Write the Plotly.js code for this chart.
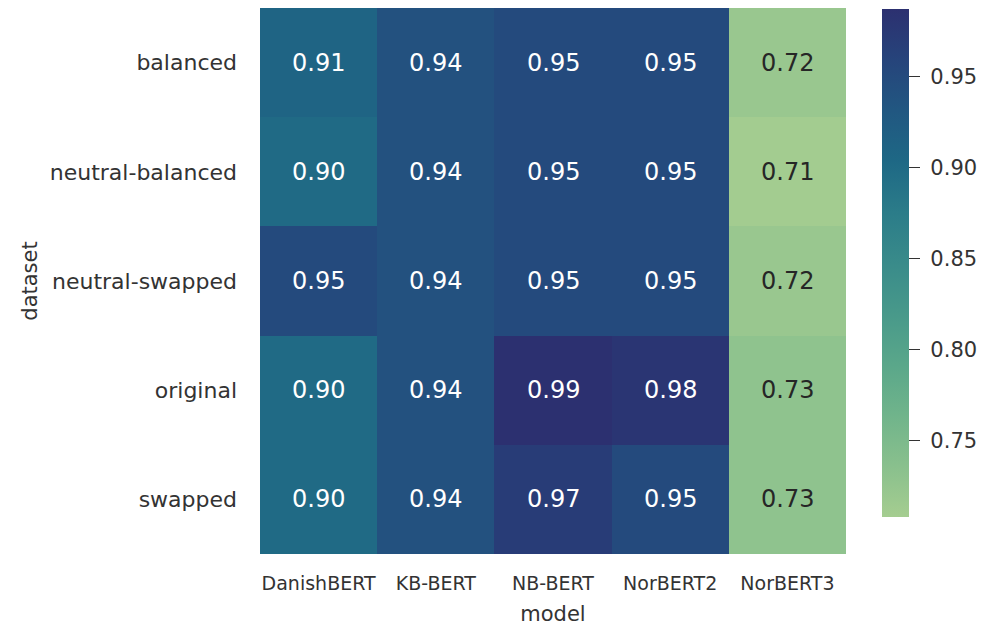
<!DOCTYPE html>
<html>
<head>
<meta charset="utf-8">
<script src="https://cdn.plot.ly/plotly-3.0.1.min.js"></script>
<style>
  html, body { margin: 0; padding: 0; background: #ffffff; }
  #chart { width: 985px; height: 630px; }
</style>
</head>
<body>
<div id="chart"></div>
<script>
// Accuracy per model (columns) and dataset variant (rows)
const models = ["DanishBERT", "KB-BERT", "NB-BERT", "NorBERT2", "NorBERT3"];
const datasets = ["balanced", "neutral-balanced", "neutral-swapped", "original", "swapped"];

const balanced        = [0.91, 0.94, 0.95, 0.95, 0.72];
const neutralBalanced = [0.90, 0.94, 0.95, 0.95, 0.71];
const neutralSwapped  = [0.95, 0.94, 0.95, 0.95, 0.72];
const original        = [0.90, 0.94, 0.99, 0.98, 0.73];
const swapped         = [0.90, 0.94, 0.97, 0.95, 0.73];

const scores = [balanced, neutralBalanced, neutralSwapped, original, swapped];

// seaborn "crest"-like colour ramp
const crest = [
  [0.00, "rgb(165,205,144)"],
  [0.10, "rgb(137,192,141)"],
  [0.20, "rgb(112,180,139)"],
  [0.30, "rgb(90,167,138)"],
  [0.40, "rgb(72,153,138)"],
  [0.50, "rgb(57,139,138)"],
  [0.60, "rgb(43,124,137)"],
  [0.70, "rgb(30,104,133)"],
  [0.80, "rgb(33,87,129)"],
  [0.90, "rgb(38,68,123)"],
  [1.00, "rgb(44,48,112)"]
];
const zmin = 0.708, zmax = 0.987;
const colorbarTicks = [0.75, 0.80, 0.85, 0.90, 0.95];

const FONT = "DejaVu Sans, sans-serif";

const trace = {
  type: "heatmap",
  x: models,
  y: datasets,
  z: scores,
  zmin: zmin,
  zmax: zmax,
  colorscale: crest,
  xgap: 0, ygap: 0,
  hoverinfo: "skip",
  colorbar: {
    thickness: 27,
    thicknessmode: "pixels",
    len: 508,
    lenmode: "pixels",
    x: 1.0614,
    xanchor: "left",
    y: 0.998,
    yanchor: "top",
    outlinewidth: 0,
    ticks: "outside",
    ticklen: 11,
    tickwidth: 1.5,
    tickcolor: "#333",
    tickmode: "array",
    tickvals: colorbarTicks,
    // pad the labels a little away from the tick marks
    ticktext: colorbarTicks.map(v => "\u00a0" + v.toFixed(2)),
    tickfont: { family: FONT, size: 21, color: "#333" },
    xpad: 0, ypad: 0
  }
};

// cell labels: light text on dark cells, dark text on light cells
const annotations = [];
datasets.forEach((d, i) => {
  models.forEach((m, j) => {
    const v = scores[i][j];
    const frac = (v - zmin) / (zmax - zmin);
    annotations.push({
      x: m, y: d, xref: "x", yref: "y",
      text: v.toFixed(2),
      showarrow: false,
      font: { family: FONT, size: 24, color: frac < 0.3 ? "#262626" : "#ffffff" }
    });
  });
});

const layout = {
  width: 985,
  height: 630,
  margin: { l: 260, r: 139, t: 8, b: 76, pad: 0, autoexpand: false },
  paper_bgcolor: "#ffffff",
  plot_bgcolor: "#ffffff",
  font: { family: FONT, color: "#333" },
  xaxis: {
    type: "category",
    showgrid: false, zeroline: false, showline: false,
    ticks: "",
    ticklabelstandoff: 16,
    tickfont: { family: FONT, size: 19, color: "#333" },
    title: { text: "model", font: { family: FONT, size: 21, color: "#333" }, standoff: 13 }
  },
  yaxis: {
    type: "category",
    autorange: "reversed",
    showgrid: false, zeroline: false, showline: false,
    ticks: "",
    ticklabelstandoff: 22,
    tickfont: { family: FONT, size: 22, color: "#333" },
    title: { text: "dataset", font: { family: FONT, size: 21, color: "#333" }, standoff: 6 }
  },
  annotations: annotations
};

Plotly.newPlot("chart", [trace], layout, { displayModeBar: false, staticPlot: true });
</script>
</body>
</html>
